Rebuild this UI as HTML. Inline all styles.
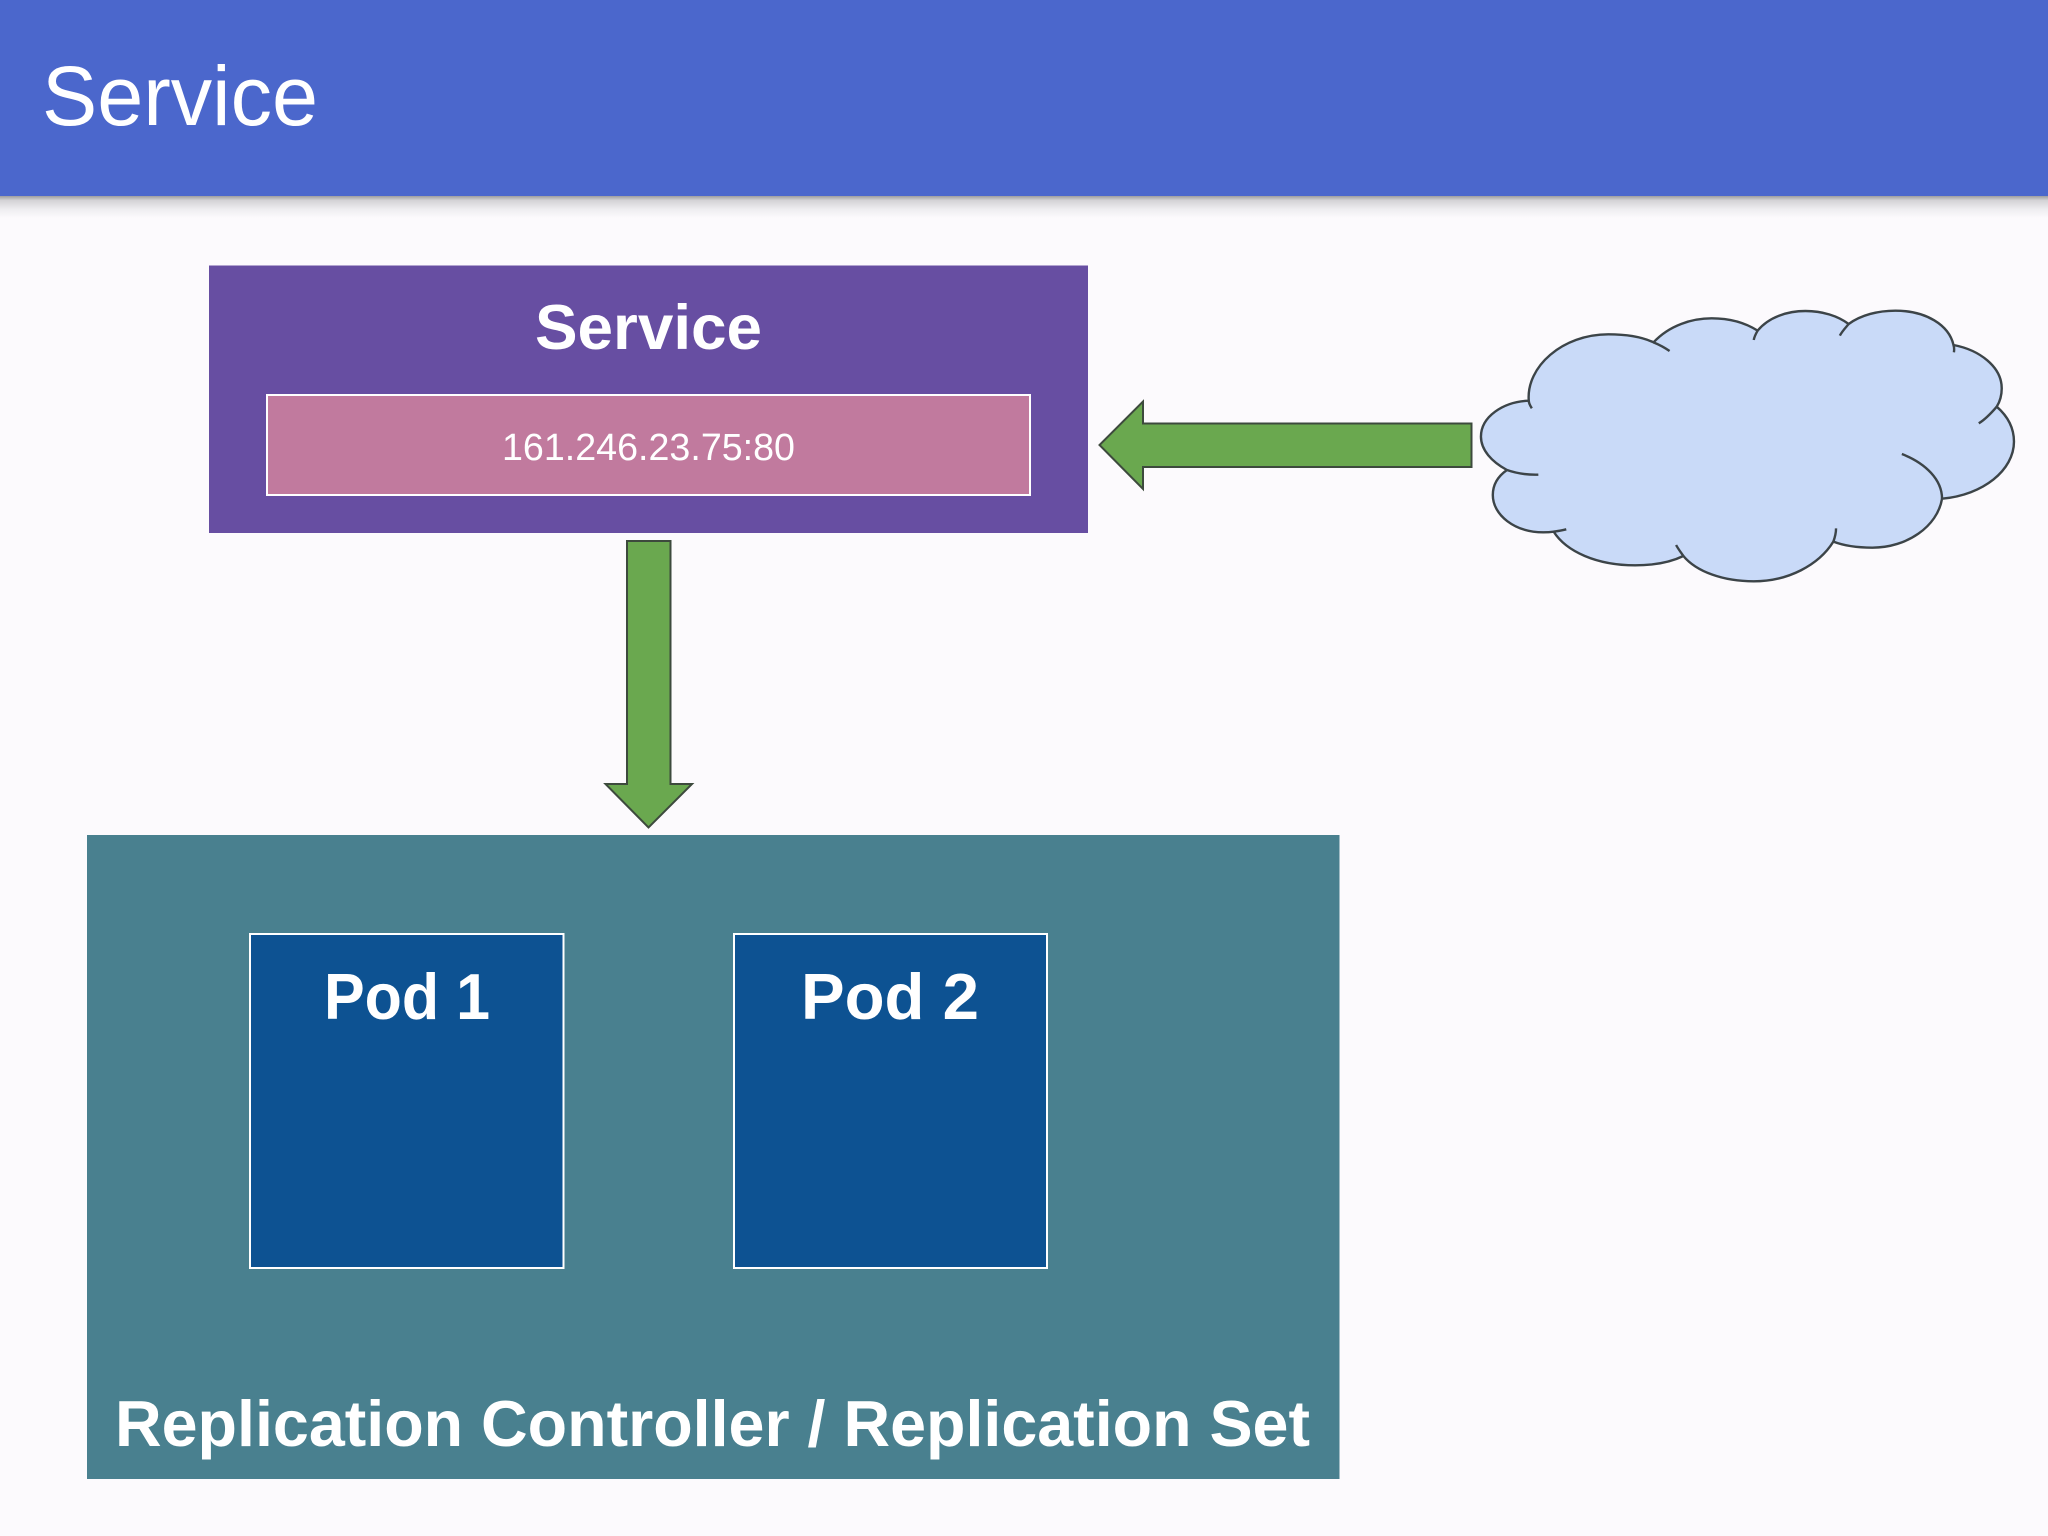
<!DOCTYPE html>
<html><head><meta charset="utf-8"><title>Service</title>
<style>html,body{margin:0;padding:0;background:#fcfafd}svg{display:block}text{font-family:"Liberation Sans",sans-serif;fill:#fff}</style>
</head><body>
<svg width="2048" height="1536" viewBox="0 0 2048 1536" xmlns="http://www.w3.org/2000/svg">
<defs><linearGradient id="s" x1="0" y1="0" x2="0" y2="1"><stop offset="0" stop-color="#9d9da0"/><stop offset=".2" stop-color="#d4d3d6"/><stop offset=".6" stop-color="#eeedf0"/><stop offset="1" stop-color="#fcfafd"/></linearGradient></defs>
<rect width="2048" height="1536" fill="#fcfafd"/>
<rect y="196" width="2048" height="22" fill="url(#s)"/>
<rect width="2048" height="196" fill="#4b67cc"/>
<text x="42" y="125" font-size="84" textLength="276" lengthAdjust="spacingAndGlyphs">Service</text>

<rect x="209" y="265.500" width="879" height="267.500" fill="#674ea2"/>
<text x="535" y="349" font-size="63" font-weight="700" textLength="227" lengthAdjust="spacingAndGlyphs">Service</text>
<rect x="267" y="395" width="763" height="100" fill="#c17a9e" stroke="#fff" stroke-width="2"/>
<text x="502" y="460" font-size="38" textLength="293" lengthAdjust="spacingAndGlyphs">161.246.23.75:80</text>

<path d="M1471.5 423.500H1143V401.500L1099.500 445L1143 489V467H1471.500Z" fill="#6aa84f" stroke="#3d4a3d" stroke-width="2"/>

<g transform="translate(1440 280) scale(.38265 .33333)">
<path fill="#c9daf8" d="M232 362C225 260 320 163 440 163C490 163 530 172 558 187C600 135 660 115 710 115C760 115 800 130 830 152C860 110 910 93 955 93C1000 93 1040 108 1068 132C1100 105 1145 92 1190 92C1270 92 1330 135 1342 195C1410 210 1468 260 1468 325C1468 345 1463 365 1455 380C1485 410 1500 445 1500 485C1500 570 1420 645 1312 656C1300 740 1220 803 1130 803C1090 803 1055 797 1028 785C990 855 910 904 820 904C740 904 670 875 636 828C600 848 555 856 510 856C410 856 330 815 297 755C285 757 280 757 270 757C195 757 138 705 138 645C138 615 150 590 175 570C135 545 107 510 107 470C107 410 165 365 232 362Z" stroke="#3c4448" stroke-width="2.400" vector-effect="non-scaling-stroke"/>
<path fill="none" stroke="#3c4448" stroke-width="2.400" vector-effect="non-scaling-stroke" d="M232 362C232 370 236 378 240 385M558 187C575 195 590 205 600 213M830 152C825 162 821 172 820 180M1068 132C1060 143 1050 155 1045 167M1342 195C1344 203 1344 210 1343 217M1455 380C1440 400 1425 418 1408 430M1312 656C1312 600 1270 550 1207 522M1028 785C1032 772 1035 758 1035 745M636 828C630 818 622 806 617 795M297 755C310 753 320 751 330 748M175 570C200 580 228 585 257 584"/>
</g>

<path d="M627 541H670.500V784H692L648.500 827.500L605.500 784H627Z" fill="#6aa84f" stroke="#3d4a3d" stroke-width="2"/>

<rect x="87" y="835" width="1252.500" height="644" fill="#49808f"/>
<rect x="250" y="934" width="313.500" height="334" fill="#0d5292" stroke="#fff" stroke-width="2"/>
<rect x="734" y="934" width="313" height="334" fill="#0d5292" stroke="#fff" stroke-width="2"/>
<text x="324" y="1019" font-size="65" font-weight="700" textLength="166" lengthAdjust="spacingAndGlyphs">Pod 1</text>
<text x="801" y="1019" font-size="65" font-weight="700" textLength="178" lengthAdjust="spacingAndGlyphs">Pod 2</text>
<text x="115" y="1446" font-size="65" font-weight="700" textLength="1195" lengthAdjust="spacingAndGlyphs">Replication Controller / Replication Set</text>
</svg>
</body></html>
